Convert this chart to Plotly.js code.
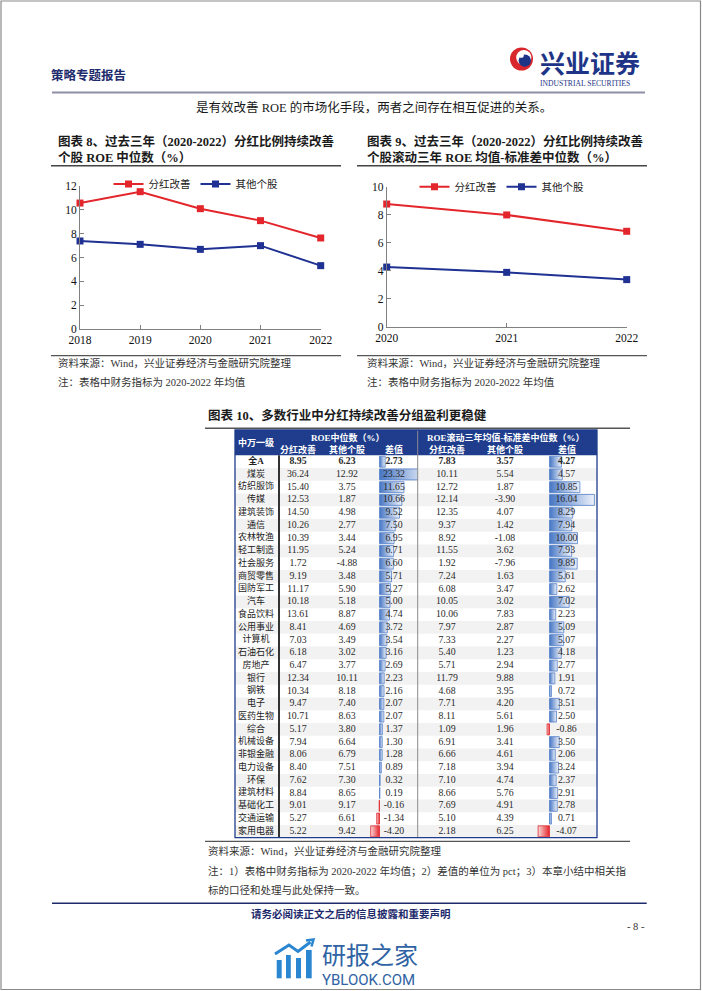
<!DOCTYPE html>
<html><head><meta charset="utf-8">
<script src="https://cdn.plot.ly/plotly-3.0.1.min.js"></script>
<style>html,body{margin:0;padding:0;background:#fff;}#chart{width:702px;height:991px;}</style>
</head><body><div id="chart"></div>
<script>
// ---------- DATA ----------
const years8 = [2018, 2019, 2020, 2021, 2022];
const roeImproved8 = [10.55, 11.50, 10.08, 9.08, 7.63];
const roeOthers8 = [7.38, 7.10, 6.68, 6.99, 5.32];
const years9 = [2020, 2021, 2022];
const stbImproved9 = [8.78, 8.00, 6.83];
const stbOthers9 = [4.27, 3.89, 3.37];
const seriesNames = ['分红改善', '其他个股'];

const industries = ['全A','煤炭','纺织服饰','传媒','建筑装饰','通信','农林牧渔','轻工制造','社会服务','商贸零售','国防军工','汽车','食品饮料','公用事业','计算机','石油石化','房地产','银行','钢铁','电子','医药生物','综合','机械设备','非银金融','电力设备','环保','建筑材料','基础化工','交通运输','家用电器'];
const roeDiv = [8.95,36.24,15.40,12.53,14.50,10.26,10.39,11.95,1.72,9.19,11.17,10.18,13.61,8.41,7.03,6.18,6.47,12.34,10.34,9.47,10.71,5.17,7.94,8.06,8.40,7.62,8.84,9.01,5.27,5.22];
const roeOther = [6.23,12.92,3.75,1.87,4.98,2.77,3.44,5.24,-4.88,3.48,5.90,5.18,8.87,4.69,3.49,3.02,3.77,10.11,8.18,7.40,8.63,3.80,6.64,6.79,7.51,7.30,8.65,9.17,6.61,9.42];
const roeDiff = [2.73,23.32,11.65,10.66,9.52,7.50,6.95,6.71,6.60,5.71,5.27,5.00,4.74,3.72,3.54,3.16,2.69,2.23,2.16,2.07,2.07,1.37,1.30,1.28,0.89,0.32,0.19,-0.16,-1.34,-4.20];
const stbDiv = [7.83,10.11,12.72,12.14,12.35,9.37,8.92,11.55,1.92,7.24,6.08,10.05,10.06,7.97,7.33,5.40,5.71,11.79,4.68,7.71,8.11,1.09,6.91,6.66,7.18,7.10,8.66,7.69,5.10,2.18];
const stbOther = [3.57,5.54,1.87,-3.90,4.07,1.42,-1.08,3.62,-7.96,1.63,3.47,3.02,7.83,2.87,2.27,1.23,2.94,9.88,3.95,4.20,5.61,1.96,3.41,4.61,3.94,4.74,5.76,4.91,4.39,6.25];
const stbDiff = [4.27,4.57,10.85,16.04,8.29,7.94,10.00,7.93,9.89,5.61,2.62,7.02,2.23,5.09,5.07,4.18,2.77,1.91,0.72,3.51,2.50,-0.86,3.50,2.06,3.24,2.37,2.91,2.78,0.71,-4.07];

// ---------- STYLE / LAYOUT HELPERS ----------
const W = 702, H = 991;
const px = x => x / W, py = y => 1 - y / H;
const CJK = 'Noto Sans CJK SC';
const MIX = 'Liberation Serif, Noto Sans CJK SC';
const SERIF = 'Liberation Serif';
const RED = '#E3262B', NAVY = '#1F3192', HEAD = '#1F3D8C', DARK = '#1D2A6B';

const annotations = [];
function A(text, x, y, size, o) {
  o = o || {};
  annotations.push({text, x: px(x), y: py(y), xref: 'paper', yref: 'paper', showarrow: false,
    xanchor: o.xa || 'left', yanchor: 'middle', align: o.xa === 'center' ? 'center' : 'left',
    font: {family: o.family || MIX, size, color: o.color || '#1a1a1a'}, borderpad: 0});
}
const shapes = [];
function L(x0, y0, x1, y1, color, width, layer) {
  shapes.push({type: 'line', xref: 'paper', yref: 'paper', x0: px(x0), y0: py(y0), x1: px(x1), y1: py(y1),
    line: {color, width}, layer: layer || 'above'});
}
function R(x0, y0, x1, y1, fill, lc, lw, layer) {
  shapes.push({type: 'rect', xref: 'paper', yref: 'paper', x0: px(x0), y0: py(y1), x1: px(x1), y1: py(y0),
    fillcolor: fill, line: {color: lc || 'rgba(0,0,0,0)', width: lw || 0}, layer: layer || 'below'});
}
function C(cx, cy, r, fill) {
  shapes.push({type: 'circle', xref: 'paper', yref: 'paper', x0: px(cx - r), x1: px(cx + r), y0: py(cy + r), y1: py(cy - r),
    fillcolor: fill, line: {width: 0}, layer: 'above'});
}
function P(pts, color, width) {
  const d = pts.map((p, i) => (i ? 'L' : 'M') + px(p[0]).toFixed(5) + ',' + py(p[1]).toFixed(5)).join(' ');
  shapes.push({type: 'path', xref: 'paper', yref: 'paper', path: d, line: {color, width}, layer: 'above'});
}

// ---------- PAGE FRAME / HEADER ----------
R(1, 1, 700.5, 989.5, 'rgba(0,0,0,0)', '#8a8a8a', 1.2, 'above');
A('<b>策略专题报告</b>', 50, 75, 12.5, {color: DARK, family: CJK});
// logo
C(521.5, 59, 11.5, '#D8262C');
C(523.8, 57.6, 7.6, '#ffffff');
C(524.8, 60.6, 6.2, '#1E3487');
C(521.2, 55.2, 2.6, '#ffffff');
A('<span style="font-size:25px;font-weight:bold">兴业证券</span><br><span style="font-family:Liberation Serif;font-size:7.6px">INDUSTRIAL SECURITIES</span>',
  539, 66, 10, {color: '#1E3487', family: CJK});
L(52, 92.5, 645, 92.5, '#8E90A8', 2.2);
A('是有效改善 ROE 的市场化手段，两者之间存在相互促进的关系。', 374, 107, 12.5, {xa: 'center'});

// ---------- CHART TITLES / NOTES ----------
A('<b>图表 8、过去三年（2020-2022）分红比例持续改善</b>', 57, 141, 12.5);
A('<b>个股 ROE 中位数（%）</b>', 57, 157, 12.5);
L(51, 165.7, 341, 165.7, '#444', 1.4);
L(51, 355.7, 341, 355.7, '#555', 1.2);
A('资料来源：Wind，兴业证券经济与金融研究院整理', 57, 363.5, 10.5, {color: '#333'});
A('注：表格中财务指标为 2020-2022 年均值', 57, 381.5, 10.5, {color: '#333'});

A('<b>图表 9、过去三年（2020-2022）分红比例持续改善</b>', 366, 141, 12.5);
A('<b>个股滚动三年 ROE 均值-标准差中位数（%）</b>', 366, 157, 12.5);
L(357, 165.7, 647, 165.7, '#444', 1.4);
L(357, 355.7, 647, 355.7, '#555', 1.2);
A('资料来源：Wind，兴业证券经济与金融研究院整理', 366, 363.5, 10.5, {color: '#333'});
A('注：表格中财务指标为 2020-2022 年均值', 366, 381.5, 10.5, {color: '#333'});

// ---------- TABLE FRAME ----------
A('<b>图表 10、多数行业中分红持续改善分组盈利更稳健</b>', 207, 415.7, 12.5);
L(205, 428.3, 630, 428.3, '#555', 1.4);
const T = {x0: 235, x1: 597, top: 430, headBottom: 455.3, bottom: 837.7};
R(T.x0, T.top, T.x1, T.headBottom, HEAD);
L(279, T.headBottom, 279, T.bottom, '#333', 2);
L(417.7, T.top, 417.7, T.bottom, '#8a8a8a', 1);
R(T.x0, T.top, T.x1, T.bottom, 'rgba(0,0,0,0)', HEAD, 1.3, 'above');
const colX = [256, 298, 347, 394, 447, 505, 566.5];
A('<b>中万一级</b>', colX[0], 442.8, 9, {xa: 'center', color: '#fff'});
A('<b>ROE中位数（%）</b>', 348, 437.6, 9, {xa: 'center', color: '#fff'});
A('<b>ROE滚动三年均值-标准差中位数（%）</b>', 506, 437.6, 9, {xa: 'center', color: '#fff'});
const subHead = ['分红改善', '其他个股', '差值', '分红改善', '其他个股', '差值'];
subHead.forEach((t, i) => A('<b>' + t + '</b>', colX[i + 1], 449.3, 9, {xa: 'center', color: '#fff'}));

// footer
L(205, 841.3, 630, 841.3, '#555', 1.2);
A('资料来源：Wind，兴业证券经济与金融研究院整理', 207, 851, 10.5, {color: '#333'});
A('注：1）表格中财务指标为 2020-2022 年均值；2）差值的单位为 pct；3）本章小结中相关指', 207, 871, 10.5, {color: '#333'});
A('标的口径和处理与此处保持一致。', 207, 890, 10.5, {color: '#333'});
L(52, 903.3, 646.7, 903.3, DARK, 1.6);
A('<b>请务必阅读正文之后的信息披露和重要声明</b>', 250, 913, 10.5, {color: DARK, family: CJK});
A('- 8 -', 646, 926, 10.5, {xa: 'right', family: SERIF, color: '#333'});

// watermark
const WM = '#2B86D1';
R(276.7, 960, 281.7, 978.3, WM, null, 0, 'above');
R(286, 955, 290.8, 978.3, WM, null, 0, 'above');
R(296, 958, 301, 978.3, WM, null, 0, 'above');
R(306, 950, 311.7, 978.3, WM, null, 0, 'above');
P([[275, 954], [289, 945], [298, 951.5], [310.5, 942]], WM, 3);
P([[306, 940.5], [313.5, 939.5], [311.5, 946.5]], WM, 2.5);
A('<span style="font-size:24px">研报之家</span><br><span style="font-family:Roboto;font-size:15px">YBLOOK.COM</span>',
  321, 962, 16, {color: '#2F63A3', family: CJK});

// row stripes (table)
const rowIdx = industries.map((_, i) => i);
rowIdx.forEach(i => {
  if (i % 2 === 1) shapes.push({type: 'rect', xref: 'x3', yref: 'y3', x0: T.x0, x1: T.x1, y0: i - 0.5, y1: i + 0.5,
    fillcolor: '#F2F2F2', line: {width: 0}, layer: 'below'});
});

// bar-axis geometry (pixel domains, zero position and scale)
const LB = {d0: 370, d1: 417.5, zero: 379.5, k: 2.1};
const RB = {d0: 537, d1: 597, zero: 549.5, k: 2.8};
const rng = b => [-(b.zero - b.d0) / b.k, (b.d1 - b.zero) / b.k];
const toAx = (b, p) => (p - b.zero) / b.k;

// ---------- TRACES ----------
const fmt = arr => arr.map((v, i) => i === 0 ? '<b>' + v.toFixed(2) + '</b>' : v.toFixed(2));
const tf = {family: SERIF, size: 9.8, color: '#2a2a2a'};
function lineTrace(x, y, name, color, xa, ya, lg) {
  return {type: 'scatter', mode: 'lines+markers', x, y, name, xaxis: xa, yaxis: ya, legend: lg,
    line: {color, width: 2}, marker: {symbol: 'square', size: 7, color}, cliponaxis: false, hoverinfo: 'skip'};
}
function textTrace(x, text, xa, font) {
  return {type: 'scatter', mode: 'text', x, y: rowIdx, text, xaxis: xa, yaxis: 'y3', textposition: 'middle center',
    textfont: font || tf, cliponaxis: false, showlegend: false, hoverinfo: 'skip'};
}
function barTrace(vals, xa) {
  return {type: 'bar', orientation: 'h', x: vals, y: rowIdx, xaxis: xa, yaxis: 'y3', width: 0.86,
    marker: {color: vals.map(v => v >= 0 ? '#8AAAE0' : '#EE5A5A'),
      line: {color: vals.map(v => v >= 0 ? '#5582CA' : '#E0282E'), width: 0.8}},
    showlegend: false, hoverinfo: 'skip'};
}
const traces = [
  lineTrace(years8, roeImproved8, seriesNames[0], RED, 'x', 'y', 'legend'),
  lineTrace(years8, roeOthers8, seriesNames[1], NAVY, 'x', 'y', 'legend'),
  lineTrace(years9, stbImproved9, seriesNames[0], RED, 'x2', 'y2', 'legend2'),
  lineTrace(years9, stbOthers9, seriesNames[1], NAVY, 'x2', 'y2', 'legend2'),
  textTrace(industries.map(() => colX[0]), industries.map((s, i) => i === 0 ? '<b>' + s + '</b>' : s), 'x3', {family: MIX, size: 9, color: '#222'}),
  textTrace(industries.map(() => colX[1]), fmt(roeDiv), 'x3'),
  textTrace(industries.map(() => colX[2]), fmt(roeOther), 'x3'),
  textTrace(industries.map(() => colX[4]), fmt(stbDiv), 'x3'),
  textTrace(industries.map(() => colX[5]), fmt(stbOther), 'x3'),
  barTrace(roeDiff, 'x4'),
  textTrace(industries.map(() => toAx(LB, colX[3])), fmt(roeDiff), 'x4'),
  barTrace(stbDiff, 'x5'),
  textTrace(industries.map(() => toAx(RB, colX[6])), fmt(stbDiff), 'x5')
];

const axBase = {showgrid: false, zeroline: false, showline: true, linecolor: '#808080', linewidth: 1,
  ticks: 'inside', ticklen: 4, tickcolor: '#808080', tickfont: {family: SERIF, size: 11.5, color: '#111'}, fixedrange: true};
const hidden = {visible: false, showgrid: false, zeroline: false, fixedrange: true};
const legBase = {orientation: 'h', xanchor: 'center', yanchor: 'middle', bgcolor: 'rgba(0,0,0,0)',
  font: {family: CJK, size: 10.5, color: '#222'}, itemwidth: 30, traceorder: 'normal'};

const layout = {
  width: W, height: H, margin: {l: 0, r: 0, t: 0, b: 0}, autosize: false,
  paper_bgcolor: '#ffffff', plot_bgcolor: 'rgba(0,0,0,0)', showlegend: true,
  xaxis: Object.assign({}, axBase, {domain: [px(80), px(320.7)], range: [2018, 2022], tickvals: years8, anchor: 'y'}),
  yaxis: Object.assign({}, axBase, {domain: [py(329.3), py(185.7)], range: [0, 12], dtick: 2, anchor: 'x'}),
  xaxis2: Object.assign({}, axBase, {domain: [px(386.7), px(626.7)], range: [2020, 2022], tickvals: years9, anchor: 'y2'}),
  yaxis2: Object.assign({}, axBase, {domain: [py(326.7), py(187)], range: [0, 10], dtick: 2, anchor: 'x2'}),
  xaxis3: Object.assign({}, hidden, {domain: [px(T.x0), px(T.x1)], range: [T.x0, T.x1], anchor: 'y3'}),
  yaxis3: Object.assign({}, hidden, {domain: [py(T.bottom), py(T.headBottom)], range: [industries.length - 0.5, -0.5], anchor: 'x3'}),
  xaxis4: Object.assign({}, hidden, {domain: [px(LB.d0), px(LB.d1)], range: rng(LB), anchor: 'y3'}),
  xaxis5: Object.assign({}, hidden, {domain: [px(RB.d0), px(RB.d1)], range: rng(RB), anchor: 'y3'}),
  legend: Object.assign({}, legBase, {x: px(196), y: py(184)}),
  legend2: Object.assign({}, legBase, {x: px(502), y: py(186.7)}),
  annotations, shapes
};

Plotly.newPlot('chart', traces, layout, {staticPlot: true, displayModeBar: false}).then(gd => {
  // Excel-like gradient data bars
  try {
    const svg = gd.querySelector('svg.main-svg');
    const NS = 'http://www.w3.org/2000/svg';
    let defs = svg.querySelector('defs');
    if (!defs) { defs = document.createElementNS(NS, 'defs'); svg.insertBefore(defs, svg.firstChild); }
    function grad(id, c0, c1) {
      const g = document.createElementNS(NS, 'linearGradient');
      g.setAttribute('id', id); g.setAttribute('x1', '0'); g.setAttribute('y1', '0'); g.setAttribute('x2', '1'); g.setAttribute('y2', '0');
      [[0, c0], [1, c1]].forEach(s => { const st = document.createElementNS(NS, 'stop'); st.setAttribute('offset', s[0]); st.setAttribute('stop-color', s[1]); g.appendChild(st); });
      defs.appendChild(g);
    }
    grad('gPos', '#4676C4', '#EDF2FA');
    grad('gNeg', '#FADADA', '#E4262B');
    const vals = roeDiff.concat(stbDiff);
    const paths = gd.querySelectorAll('.barlayer .point path');
    paths.forEach((p, i) => {
      const d = p.parentNode.__data__;
      const v = (d && typeof d.s === 'number') ? d.s : vals[i];
      p.style.fill = v >= 0 ? 'url(#gPos)' : 'url(#gNeg)';
    });
  } catch (e) {}
});
</script>
</body></html>
